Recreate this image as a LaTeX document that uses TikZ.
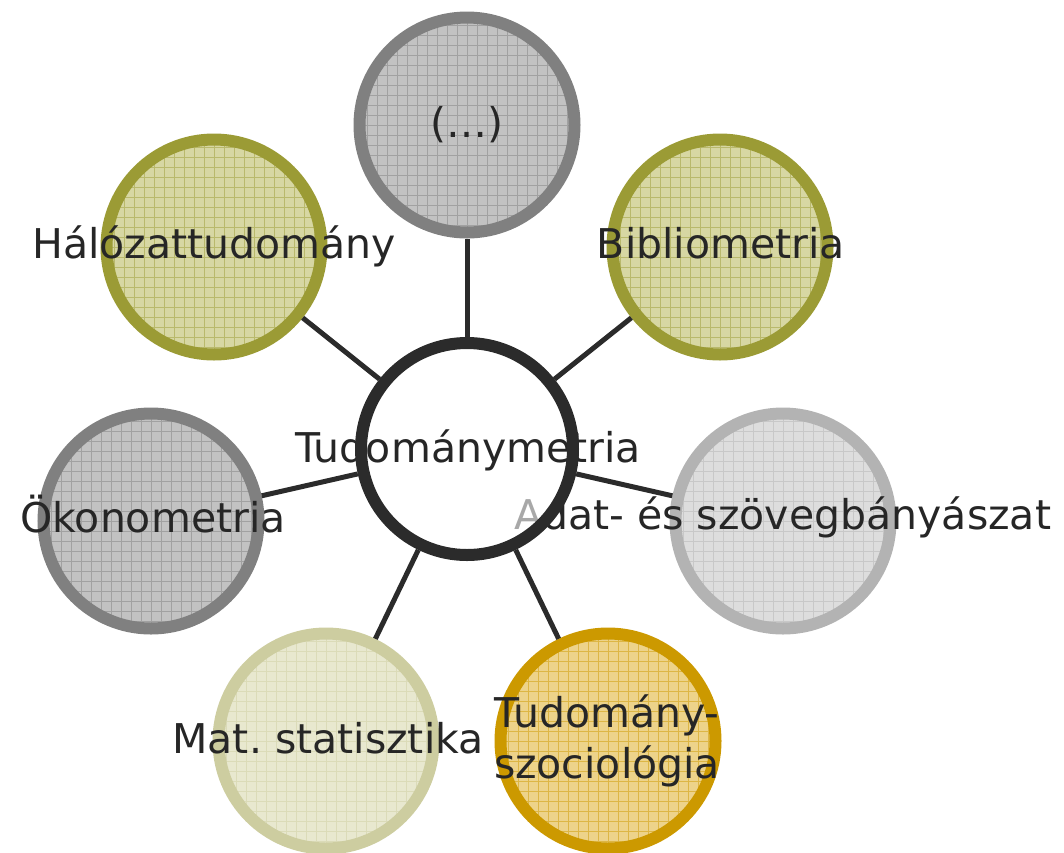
\documentclass[tikz,border=0pt]{standalone}
\usepackage{fontspec}
\setmainfont{DejaVu Sans}
\usetikzlibrary{positioning}
\frenchspacing
\definecolor{greyrim}{HTML}{808080}
\definecolor{greyfill}{HTML}{C2C2C2}
\definecolor{olivrim}{HTML}{9B9B35}
\definecolor{olivfill}{HTML}{D7D7A3}
\definecolor{silvrim}{HTML}{B3B3B3}
\definecolor{silvfill}{HTML}{DDDDDD}
\definecolor{palerim}{HTML}{CDCDA0}
\definecolor{palefill}{HTML}{E8E8CF}
\definecolor{goldrim}{HTML}{CC9900}
\definecolor{goldfill}{HTML}{EDD38A}
\definecolor{hubink}{HTML}{2B2B2B}
\definecolor{ink}{HTML}{262626}
\tikzset{%
    bubble/.style 2 args={%
        circle, draw=#1, fill=#2, line width=12pt, minimum size=215pt, inner sep=0pt,
        path picture={\draw[#1!50!#2, line width=0.9pt] (path picture bounding box.south west) grid[step=10pt] (path picture bounding box.north east);}
    },
    hub/.style={%
        circle, fill=white, fill opacity=0.6, line width=12pt, minimum size=212pt, inner sep=0pt
    },
    hubrim/.style={%
        draw=hubink, line width=12pt
    },
    spoke/.style={%
        draw=hubink, line width=5pt
    },
    txt/.style={%
        font=\fontsize{41}{51}\selectfont, text=ink, anchor=base, align=center, inner sep=0pt
    },
}
\begin{document}
\begin{tikzpicture}[x=1pt,y=-1pt]
      \useasboundingbox (0,0) rectangle (1064,852);
      % outer circles
      \node[bubble={greyrim}{greyfill}] (dots) at (467,125) {};
      \node[bubble={olivrim}{olivfill}] (bib) at (720,247) {};
      \node[bubble={silvrim}{silvfill}] (adat) at (783,521) {};
      \node[bubble={goldrim}{goldfill}] (szoc) at (608,741) {};
      \node[bubble={palerim}{palefill}] (stat) at (326,741) {};
      \node[bubble={greyrim}{greyfill}] (oko) at (151,521) {};
      \node[bubble={olivrim}{olivfill}] (halo) at (214,247) {};

      \node[txt] (dots-t) at (467,137) {(\dots)};
      \node[txt] (bib-t) at (721,258) {Bibliometria};
      \node[txt] (adat-t) at (783,529) {Adat- és szövegbányászat};
      \node[txt, anchor=center] (szoc-t) at (607,741) {Tudomány-\\szociológia};
      \node[txt] (stat-t) at (328,753) {Mat. statisztika};
      \node[txt] (oko-t) at (153,532) {Ökonometria};
      \node[txt] (halo-t) at (214,258) {Hálózattudomány};

      % centre
      \node[hub] (tm) at (467,449) {};
      \node[txt] (tm-t) at (468,462) {Tudománymetria};
      \draw[hubrim] (tm.center) circle[radius=106];
      \foreach \n in {dots,bib,adat,szoc,stat,oko,halo}
        \draw[spoke] (tm) -- (\n);
\end{tikzpicture}
\end{document}
